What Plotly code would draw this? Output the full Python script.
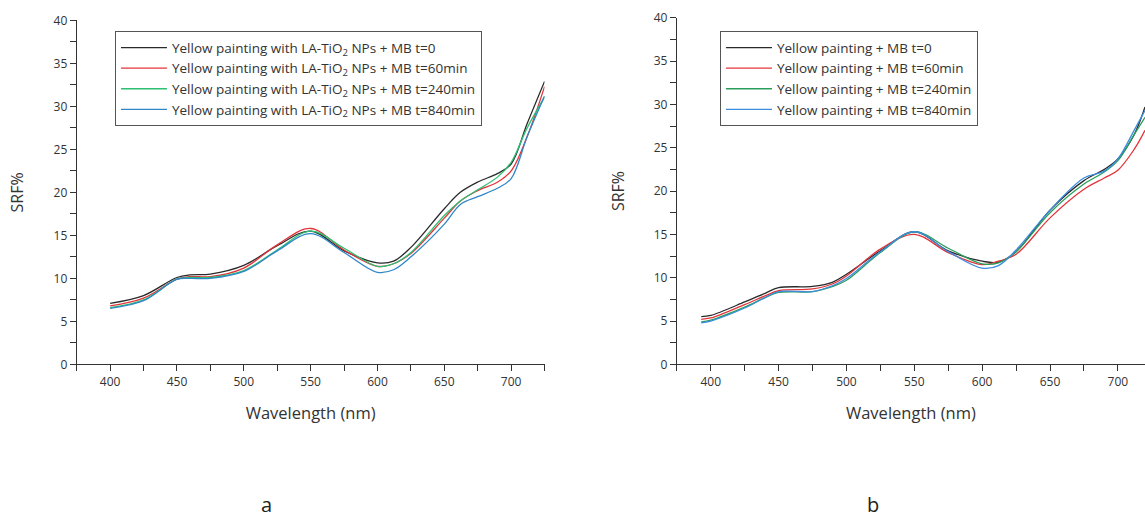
import plotly.graph_objects as go

# panel a - yellow painting with LA-TiO2 NPs + MB
wl_a = [400, 425, 450, 460, 475, 500, 525, 550, 575, 600, 612, 625, 650, 662, 675, 690, 700, 712, 725]
a_t0 = [7.1, 8.0, 10.1, 10.4, 10.5, 11.5, 13.8, 15.5, 13.2, 11.8, 12.0, 13.6, 18.1, 20.0, 21.2, 22.2, 23.3, 28.0, 32.9]
a_t60 = [6.8, 7.7, 9.9, 10.2, 10.2, 11.2, 13.9, 15.8, 13.3, 11.4, 11.7, 12.9, 17.0, 19.0, 20.2, 21.2, 22.5, 26.5, 32.3]
a_t240 = [6.6, 7.5, 9.9, 10.1, 10.1, 10.9, 13.3, 15.5, 13.5, 11.4, 11.7, 13.0, 17.3, 19.0, 20.3, 21.8, 23.5, 27.5, 31.1]
a_t840 = [6.5, 7.4, 9.9, 10.0, 10.0, 10.8, 13.2, 15.2, 13.0, 10.7, 11.0, 12.5, 16.3, 18.6, 19.5, 20.5, 21.6, 26.5, 31.2]

# panel b - yellow painting + MB
wl_b = [393, 400, 425, 440, 450, 475, 490, 500, 525, 550, 575, 600, 612, 625, 650, 675, 690, 700, 712, 720]
b_t0 = [5.5, 5.65, 7.2, 8.2, 8.85, 9.0, 9.5, 10.4, 13.1, 15.3, 13.1, 11.9, 11.8, 13.0, 17.8, 21.2, 22.5, 23.7, 26.5, 29.7]
b_t60 = [5.2, 5.35, 6.9, 7.9, 8.5, 8.7, 9.3, 10.2, 13.3, 15.0, 12.9, 11.5, 11.9, 12.7, 16.9, 20.2, 21.5, 22.4, 24.8, 27.0]
b_t240 = [4.9, 5.1, 6.6, 7.7, 8.3, 8.4, 9.0, 9.7, 12.9, 15.3, 13.4, 11.6, 11.7, 13.0, 17.5, 20.8, 22.2, 23.5, 26.5, 28.5]
b_t840 = [4.8, 5.0, 6.5, 7.7, 8.4, 8.4, 9.1, 9.9, 13.0, 15.3, 13.0, 11.1, 11.4, 13.2, 17.8, 21.5, 22.3, 23.7, 27.0, 29.3]

names_a = ["Yellow painting with LA-TiO<sub>2</sub> NPs + MB t=0",
           "Yellow painting with LA-TiO<sub>2</sub> NPs + MB t=60min",
           "Yellow painting with LA-TiO<sub>2</sub> NPs + MB t=240min",
           "Yellow painting with LA-TiO<sub>2</sub> NPs + MB t=840min"]
names_b = ["Yellow painting + MB t=0",
           "Yellow painting + MB t=60min",
           "Yellow painting + MB t=240min",
           "Yellow painting + MB t=840min"]

colors_a = ["#2a2a2a", "#e3343a", "#2cc073", "#2f86c8"]
colors_b = ["#2a2a2a", "#e3343a", "#2a9d5c", "#3b8de0"]

FONT = "Open Sans"
INK = "#333333"

fig = go.Figure()

for name, ys, c in zip(names_a, [a_t0, a_t60, a_t240, a_t840], colors_a):
    fig.add_trace(go.Scatter(x=wl_a, y=ys, name=name, mode="lines",
                             line=dict(color=c, width=1.3, shape="spline", smoothing=1.0),
                             xaxis="x", yaxis="y", legend="legend"))

for name, ys, c in zip(names_b, [b_t0, b_t60, b_t240, b_t840], colors_b):
    fig.add_trace(go.Scatter(x=wl_b, y=ys, name=name, mode="lines",
                             line=dict(color=c, width=1.3, shape="spline", smoothing=1.0),
                             xaxis="x2", yaxis="y2", legend="legend2"))

xax = dict(showgrid=False, zeroline=False, showline=True, linecolor=INK, linewidth=1,
           ticks="outside", ticklen=6, tickcolor=INK, tickwidth=1,
           tick0=400, dtick=50, tickfont=dict(size=12, color=INK, family=FONT),
           minor=dict(dtick=25, tick0=375, ticks="outside", ticklen=6, tickcolor=INK),
           title=dict(text="Wavelength (nm)", font=dict(size=16.5, color=INK, family=FONT), standoff=18))
yax = dict(showgrid=False, zeroline=False, showline=True, linecolor=INK, linewidth=1,
           ticks="outside", ticklen=6, tickcolor=INK, tickwidth=1,
           tick0=0, dtick=5, range=[0, 40], tickfont=dict(size=12, color=INK, family=FONT),
           minor=dict(dtick=2.5, ticks="outside", ticklen=6, tickcolor=INK),
           title=dict(text="SRF%", font=dict(size=16, color=INK, family=FONT), standoff=25))

leg = dict(bgcolor="rgba(255,255,255,0)", bordercolor="#555555", borderwidth=1,
           font=dict(size=13.5, color=INK, family=FONT), xanchor="left", yanchor="top",
           tracegroupgap=0, itemwidth=46)

fig.update_layout(
    width=1145, height=524, autosize=False,
    margin=dict(l=0, r=0, t=0, b=0),
    paper_bgcolor="white", plot_bgcolor="white",
    font=dict(family=FONT, color=INK),
    xaxis=dict(xax, domain=[0.067, 0.4756], range=[375, 725], anchor="y"),
    yaxis=dict(yax, domain=[0.2991, 0.9776], anchor="x"),
    xaxis2=dict(xax, domain=[0.5911, 1.0], range=[375, 720], anchor="y2"),
    yaxis2=dict(yax, domain=[0.2991, 0.9829], anchor="x2"),
    legend=dict(leg, x=0.1004, y=0.9559),
    legend2=dict(leg, x=0.6288, y=0.9559),
    annotations=[
        dict(text="a", x=0.2328, y=-0.008, xref="paper", yref="paper", showarrow=False,
             font=dict(size=20, color="#222222", family=FONT), xanchor="center", yanchor="bottom"),
        dict(text="b", x=0.7621, y=-0.008, xref="paper", yref="paper", showarrow=False,
             font=dict(size=20, color="#222222", family=FONT), xanchor="center", yanchor="bottom"),
    ],
)

fig.write_html("out.html", config={"responsive": False, "displayModeBar": False},
               post_script="document.body.style.margin='0';")
